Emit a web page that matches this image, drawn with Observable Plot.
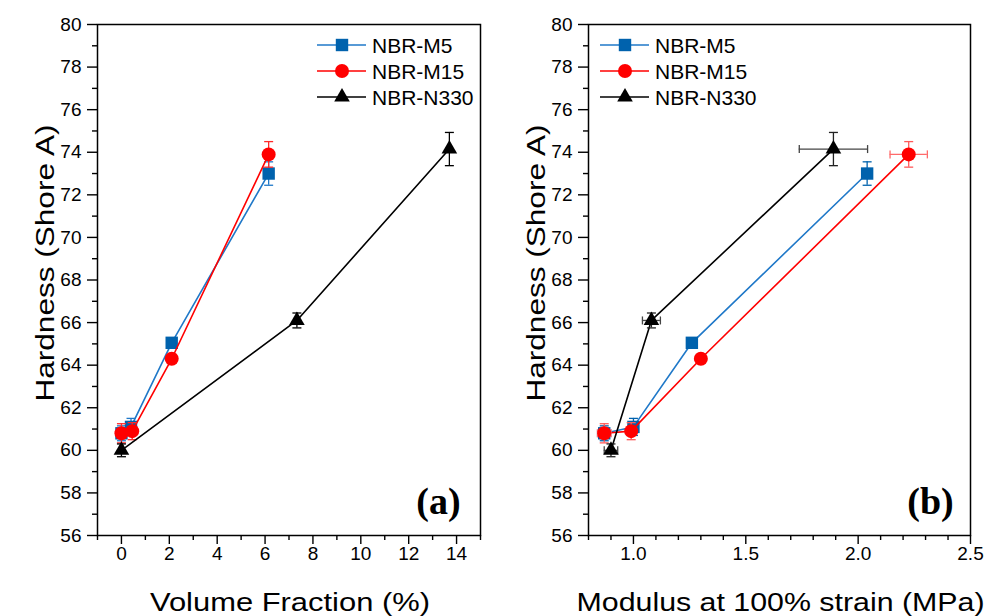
<!DOCTYPE html>
<html><head><meta charset="utf-8">
<script src="https://cdn.jsdelivr.net/npm/d3@7"></script>
<script src="https://cdn.jsdelivr.net/npm/@observablehq/plot@0.6"></script>
<style>
body{margin:0;background:#fff;}
#chart{position:relative;width:987px;height:616px;overflow:hidden;background:#fff;}
#chart svg{position:absolute;top:0;overflow:visible;}
</style></head><body><div id="chart"></div>
<script>
// ---- data ----
const seriesNames = ["NBR-M5", "NBR-M15", "NBR-N330"];
const volFracM5 = [0, 0.4, 2.1, 6.15];
const volFracM15 = [0, 0.45, 2.1, 6.15];
const volFracN330 = [0, 7.33, 13.7];
const hardM5 = [60.8, 61.1, 65.05, 73.0];
const hardM15 = [60.8, 60.9, 64.3, 73.9];
const hardN330 = [60.0, 66.1, 74.15];
const hardErrM5 = [0.35, 0.4, 0.2, 0.55];
const hardErrM15 = [0.45, 0.4, 0.2, 0.6];
const hardErrN330 = [0.3, 0.35, 0.78];
const modM5 = [0.87, 1.0, 1.26, 2.04];
const modM15 = [0.87, 0.99, 1.30, 2.225];
const modN330 = [0.90, 1.08, 1.89];
const modErrM5 = [0.03, 0.02, 0.018, 0.023];
const modErrM15 = [0.03, 0.02, 0.014, 0.083];
const modErrN330 = [0.03, 0.04, 0.152];
const yTicks = [56, 58, 60, 62, 64, 66, 68, 70, 72, 74, 76, 78, 80];
const xTicksA = [0, 2, 4, 6, 8, 10, 12, 14];
const xTicksB = [1.0, 1.5, 2.0, 2.5];
const titleY = "Hardness (Shore A)";
const titleXA = "Volume Fraction (%)";
const titleXB = "Modulus at 100% strain (MPa)";
const panelTags = ["(a)", "(b)"];

// ---- styles ----
const styles = [
  {line: "#1f78c8", fill: "#0062ad", symbol: "square", r: 7, errA: "#1f78c8", errBy: "#0062ad", errBx: "#7db8e8"},
  {line: "#ff0000", fill: "#ff0000", symbol: "circle", r: 7, errA: "#ff2a2a", errBy: "#ff5a5a", errBx: "#ff6a6a"},
  {line: "#000000", fill: "#000000", symbol: "triangle", r: 5.8, errA: "#000000", errBy: "#222222", errBx: "#444444"}
];
const symbolTypes = {square: d3.symbolSquare, circle: d3.symbolCircle, triangle: d3.symbolTriangle};
const FONT = "'Liberation Sans', Arial, sans-serif";

const capH = {draw(ctx, size) { const r = Math.sqrt(size / Math.PI); ctx.moveTo(-r, 0); ctx.lineTo(r, 0); }};
const capV = {draw(ctx, size) { const r = Math.sqrt(size / Math.PI); ctx.moveTo(0, -r); ctx.lineTo(0, r); }};

const hard = [hardM5, hardM15, hardN330];
const hardErr = [hardErrM5, hardErrM15, hardErrN330];
const xsA = [volFracM5, volFracM15, volFracN330];
const xsB = [modM5, modM15, modN330];
const xErrB = [modErrM5, modErrM15, modErrN330];

function rows(si, xs, xe) {
  return xs[si].map((x, i) => ({series: seriesNames[si], x, y: hard[si][i], ey: hardErr[si][i], ex: xe ? xe[si][i] : 0}));
}

function legendMark(x0, y0) {
  return () => {
    const g = d3.create("svg:g");
    styles.forEach((s, i) => {
      const y = y0 + i * 26;
      g.append("line").attr("x1", x0).attr("x2", x0 + 49).attr("y1", y).attr("y2", y)
        .attr("stroke", s.line).attr("stroke-width", 1.6);
      g.append("path").attr("transform", `translate(${x0 + 25},${y})`)
        .attr("d", d3.symbol(symbolTypes[s.symbol], Math.PI * s.r * s.r)())
        .attr("fill", s.fill);
      g.append("text").attr("x", x0 + 55).attr("y", y).attr("dy", "0.36em")
        .attr("text-anchor", "start")
        .attr("font-size", 21).attr("font-family", FONT).attr("fill", "#000").text(seriesNames[i]);
    });
    return g.node();
  };
}

function panel({width, marginLeft, marginRight, xDomain, xTicks, xMinor, xFormat, xs, xe, xTitle, xTitleLen, tag, tagDx, legendX, errKey}) {
  const marks = [];
  marks.push(Plot.axisY({ticks: yTicks, tickSize: 10, tickPadding: 6, fontSize: 19, label: null, strokeWidth: 1.4}));
  marks.push(Plot.axisY({ticks: yTicks.slice(0, -1).map(v => v + 1), tickSize: 5, tickFormat: () => "", label: null, strokeWidth: 1.4}));
  marks.push(Plot.axisX({ticks: xTicks, tickSize: 9, tickPadding: 2, fontSize: 19, label: null, tickFormat: xFormat, strokeWidth: 1.4}));
  marks.push(Plot.axisX({ticks: xMinor, tickSize: 5, tickFormat: () => "", label: null, strokeWidth: 1.4}));
  marks.push(Plot.frame({stroke: "#000", strokeWidth: 1.5}));
  styles.forEach((s, si) => {
    const d = rows(si, xs, xe);
    marks.push(Plot.line(d, {x: "x", y: "y", stroke: s.line, strokeWidth: 1.6}));
    if (xe) {
      marks.push(Plot.ruleY(d, {y: "y", x1: r => r.x - r.ex, x2: r => r.x + r.ex, stroke: s.errBx, strokeWidth: 1.3}));
      marks.push(Plot.dot(d, {x: r => r.x - r.ex, y: "y", symbol: capV, r: 4, stroke: s.errBx, fill: "none", strokeWidth: 1.3}));
      marks.push(Plot.dot(d, {x: r => r.x + r.ex, y: "y", symbol: capV, r: 4, stroke: s.errBx, fill: "none", strokeWidth: 1.3}));
    }
    const ec = s[errKey];
    marks.push(Plot.ruleX(d, {x: "x", y1: r => r.y - r.ey, y2: r => r.y + r.ey, stroke: ec, strokeWidth: 1.3}));
    marks.push(Plot.dot(d, {x: "x", y: r => r.y - r.ey, symbol: capH, r: 4.5, stroke: ec, fill: "none", strokeWidth: 1.3}));
    marks.push(Plot.dot(d, {x: "x", y: r => r.y + r.ey, symbol: capH, r: 4.5, stroke: ec, fill: "none", strokeWidth: 1.3}));
    marks.push(Plot.dot(d, {x: "x", y: "y", symbol: s.symbol, r: s.r, fill: s.fill, stroke: "none"}));
  });
  marks.push(Plot.text([titleY], {text: d => d, frameAnchor: "left", dx: -52, dy: -17, rotate: -90, fontSize: 26, textAnchor: "middle", lineAnchor: "middle", fill: "#000", className: "ttl-y"}));
  marks.push(Plot.text([xTitle], {text: d => d, frameAnchor: "bottom", dx: 1, dy: 67, fontSize: 26, textAnchor: "middle", lineAnchor: "middle", fill: "#000", className: "ttl-x"}));
  marks.push(Plot.text([tag], {text: d => d, frameAnchor: "bottom-right", dx: tagDx, dy: -34, fontSize: 38, fontWeight: "bold", fontFamily: "'Liberation Serif', 'Times New Roman', serif", textAnchor: "middle", lineAnchor: "middle", fill: "#000"}));
  marks.push(legendMark(legendX, 45));
  const svg = Plot.plot({
    width, height: 616,
    marginLeft, marginRight, marginTop: 24, marginBottom: 81,
    x: {domain: xDomain},
    y: {domain: [56, 80]},
    style: {fontFamily: FONT, fontSize: "19px", color: "#000", background: "transparent", overflow: "visible"},
    marks
  });
  // stretch titles to the reference's width (text stays text)
  d3.select(svg).selectAll(".ttl-y text").attr("textLength", 277).attr("lengthAdjust", "spacingAndGlyphs");
  d3.select(svg).selectAll(".ttl-x text").attr("textLength", xTitleLen).attr("lengthAdjust", "spacingAndGlyphs");
  return svg;
}

const chart = document.getElementById("chart");
const left = panel({
  width: 500, marginLeft: 97, marginRight: 20, xDomain: [-1, 15],
  xTicks: xTicksA, xMinor: d3.range(-1, 16, 2), xFormat: d3.format("d"),
  xs: xsA, xe: null, xTitle: titleXA, xTitleLen: 280, tag: panelTags[0], tagDx: -42, legendX: 317, errKey: "errA"
});
left.style.left = "0px";
chart.appendChild(left);
const right = panel({
  width: 487, marginLeft: 88, marginRight: 17, xDomain: [0.8, 2.5],
  xTicks: xTicksB, xMinor: d3.range(8, 25, 1).filter(v => v % 5 !== 0).map(v => v / 10), xFormat: d3.format(".1f"),
  xs: xsB, xe: xErrB, xTitle: titleXB, xTitleLen: 408, tag: panelTags[1], tagDx: -40, legendX: 100, errKey: "errBy"
});
right.style.left = "500px";
chart.appendChild(right);
</script></body></html>
